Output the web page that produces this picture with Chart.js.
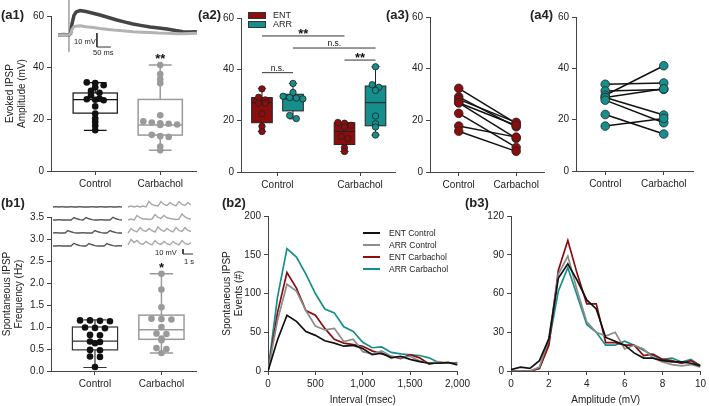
<!DOCTYPE html>
<html>
<head>
<meta charset="utf-8">
<script src="https://cdn.jsdelivr.net/npm/chart.js@4.4.0/dist/chart.umd.min.js"></script>
<style>
body { margin: 0; background: #fff; }
#wrap { position: relative; width: 709px; height: 406px; overflow: hidden; font-family: "Liberation Sans", Arial, sans-serif; color: #222; }
#wrap canvas { position: absolute; }
.pl { position: absolute; font-weight: bold; font-size: 13px; line-height: 16px; }
.tx { position: absolute; font-size: 8.5px; line-height: 10px; white-space: nowrap; }
.sw { position: absolute; }
</style>
</head>
<body>
<div id="wrap">
  <canvas id="a1" width="200" height="200" style="left:0;top:0"></canvas>
  <canvas id="a1in" width="140" height="55" style="left:58px;top:0"></canvas>
  <canvas id="a2" width="200" height="200" style="left:200px;top:0"></canvas>
  <canvas id="a3" width="150" height="200" style="left:400px;top:0"></canvas>
  <canvas id="a4" width="159" height="200" style="left:550px;top:0"></canvas>
  <canvas id="b1" width="200" height="206" style="left:0;top:200px"></canvas>
  <canvas id="b1in" width="150" height="58" style="left:50px;top:200px"></canvas>
  <canvas id="b2" width="273" height="206" style="left:200px;top:200px"></canvas>
  <canvas id="b3" width="239" height="206" style="left:470px;top:200px"></canvas>

  <div class="pl" style="left:1px;top:7px">(a1)</div>
  <div class="pl" style="left:198px;top:7px">(a2)</div>
  <div class="pl" style="left:386px;top:7px">(a3)</div>
  <div class="pl" style="left:530px;top:7px">(a4)</div>
  <div class="pl" style="left:1px;top:195px">(b1)</div>
  <div class="pl" style="left:222px;top:195px">(b2)</div>
  <div class="pl" style="left:465px;top:195px">(b3)</div>

  <div class="tx" style="left:74px;top:37px;font-size:7.5px">10 mV</div>
  <div class="tx" style="left:93px;top:48px;font-size:7.5px">50 ms</div>
  <div class="tx" style="left:155px;top:248px;font-size:7.5px">10 mV</div>
  <div class="tx" style="left:184px;top:257px;font-size:7.5px">1 s</div>

  <div class="sw" style="left:248px;top:12px;width:16px;height:5px;background:#8b0d0d;border:1px solid #333"></div>
  <div class="tx" style="left:273px;top:10px;font-size:9px">ENT</div>
  <div class="sw" style="left:248px;top:21px;width:16px;height:5px;background:#168f8c;border:1px solid #333"></div>
  <div class="tx" style="left:273px;top:19px;font-size:9px">ARR</div>

  <div class="sw" style="left:363px;top:232px;width:17px;height:2px;background:#111"></div>
  <div class="tx" style="left:389px;top:228px">ENT Control</div>
  <div class="sw" style="left:363px;top:244px;width:17px;height:2px;background:#8c8c8c"></div>
  <div class="tx" style="left:389px;top:240px">ARR Control</div>
  <div class="sw" style="left:363px;top:256px;width:17px;height:2px;background:#8b0d0d"></div>
  <div class="tx" style="left:389px;top:252px">ENT Carbachol</div>
  <div class="sw" style="left:363px;top:268px;width:17px;height:2px;background:#168f8c"></div>
  <div class="tx" style="left:389px;top:264px">ARR Carbachol</div>
</div>

<script>
// ---------- DATA ----------

const groups = ['Control', 'Carbachol'];

// (a1) evoked IPSP amplitude (mV)
const a1Control = [34.3, 34.0, 33.2, 32.4, 31.0, 30.3, 29.2, 28.0, 27.8, 27.6, 27.4, 25.0, 22.2, 20.3, 19.0, 17.5, 15.8];
const a1Carbachol = [41.0, 37.5, 35.5, 34.0, 21.6, 19.2, 18.8, 18.5, 18.3, 18.0, 17.8, 14.0, 13.5, 13.2, 9.5, 8.0];
// box stats: min, q1, median, q3, max
const a1ControlBox = [15.7, 22.4, 27.6, 30.2, 34.2];
const a1CarbacholBox = [8.0, 13.9, 17.8, 27.7, 41.0];

// (a1) inset traces: time (ms), deflection (mV)
const traceT = [0, 20, 39, 45, 50, 57, 65, 79, 100, 125, 150, 180, 210, 240, 268, 300, 329, 360, 389, 420, 446, 470, 496];
const traceControl = [0, 0.3, 0, 1, 8, 14, 16.5, 17.4, 16.8, 15.5, 14.3, 12.5, 10.7, 9.2, 7.9, 6.7, 5.7, 5, 4.3, 3.2, 2.4, 2.2, 2.4];
const traceCarbachol = [0, 0.2, 0, 1, 4, 5.8, 6.3, 6.6, 5.9, 5.4, 4.6, 4, 3.3, 2.8, 2.3, 2, 1.8, 1.4, 1.2, 0.9, 0.8, 1, 1.2];

// (a2) ENT vs ARR
const a2EntControl = [32.4, 29.1, 28.1, 26.8, 26.8, 22.7, 17.8, 15.8];
const a2ArrControl = [34.5, 31.0, 29.5, 29.0, 28.8, 28.5, 22.0, 20.8];
const a2EntCarbachol = [19.3, 19.0, 18.2, 17.5, 13.8, 13.0, 9.5, 8.0];
const a2ArrCarbachol = [41.0, 34.0, 33.0, 31.8, 21.8, 18.8, 17.5, 14.4];
const a2EntControlBox = [15.8, 19.2, 27.0, 29.0, 32.6];
const a2ArrControlBox = [20.7, 23.8, 28.5, 30.3, 34.5];
const a2EntCarbacholBox = [8.0, 10.7, 15.8, 19.2, 19.3];
const a2ArrCarbacholBox = [14.4, 18.0, 27.0, 33.5, 41.0];

// (a3) paired ENT, (a4) paired ARR
const a3Control = [32.4, 29.1, 28.1, 26.8, 26.8, 22.7, 17.8, 15.8];
const a3Carbachol = [18.8, 17.5, 19.2, 13.0, 18.0, 9.5, 13.5, 8.0];
const a4Control = [33.8, 31.2, 29.5, 28.6, 28.6, 27.6, 22.0, 17.5];
const a4Carbachol = [34.3, 31.8, 41.0, 32.0, 21.8, 18.8, 14.4, 20.5];

// (b1) spontaneous IPSP frequency (Hz)
const b1Control = [1.15, 1.15, 1.14, 1.13, 0.99, 0.98, 0.97, 0.82, 0.81, 0.67, 0.66, 0.63, 0.48, 0.47, 0.33, 0.32, 0.09];
const b1Carbachol = [2.21, 1.85, 1.45, 1.19, 1.18, 1.17, 1.0, 0.85, 0.84, 0.74, 0.7, 0.52, 0.5, 0.41];
const b1ControlBox = [0.08, 0.48, 0.68, 1.0, 1.16];
const b1CarbacholBox = [0.41, 0.72, 0.94, 1.27, 2.21];

// (b1) inset sweeps (mV above each baseline), 0.3 s apart
const sweepControl = [
  [0, 0.8, 0, 0.8, 0, 0, 0.8, 0, 0, 0.8, 0, 0, 0, 0.8, 0, 0, 0.8, 0, 0, 0.8, 0, 0, 0.8, 0],
  [0, 0, 0.8, 0, 0, 0, 0, 5, 2.4, 0.8, 0, 5, 2.4, 0.8, 0, 0, 0.8, 0, 0, 0, 5.5, 2.4, 0.8, 0],
  [0, 0.8, 0, 0, 0, 5, 2.4, 0.8, 0, 0, 0.8, 0, 0, 0, 5, 2.4, 0.8, 0, 0, 5, 2.4, 0.8, 0, 0],
  [0, 0, 0.8, 0, 0, 0, 0, 5.5, 2.4, 0.8, 0, 0, 5, 2.4, 0.8, 0, 0, 0, 5, 2.4, 0.8, 0, 0.8, 0]
];
const sweepCarbachol = [
  [0, 2, 0, 2, 0, 2, 0, 11, 5, 3, 2, 11, 5, 3, 9, 4.5, 2, 11, 5, 3, 9, 4],
  [0, 2, 0, 9, 4.5, 2, 2, 1, 2, 11, 5, 3, 9, 4.5, 3, 2, 1, 2, 12, 6, 3, 2],
  [0, 9, 4.5, 2, 11, 5, 3, 9, 4.5, 2, 12, 6, 3, 9, 4.5, 2, 11, 5, 3, 11, 5, 3],
  [2, 13, 7, 11, 5, 3, 9, 4.5, 2, 11, 5, 3, 9, 4.5, 2, 9, 4.5, 2, 11, 5, 3, 7]
];

// (b2) inter-event interval histogram
const intervalBins = [0, 100, 200, 300, 400, 500, 600, 700, 800, 900, 1000, 1100, 1200, 1300, 1400, 1500, 1600, 1700, 1800, 1900, 2000];
const ivEntControl = [0, 40, 72, 64, 51, 46, 39, 36, 32, 33, 29, 21, 23, 17, 19, 15, 12, 10, 10, 11, 8];
const ivArrControl = [0, 65, 112, 103, 78, 58, 53, 55, 38, 41, 25, 22, 26, 19, 17, 19, 13, 10, 12, 10, 10];
const ivEntCarbachol = [0, 75, 127, 107, 78, 72, 55, 41, 36, 34, 32, 26, 22, 19, 16, 21, 17, 9, 11, 10, 10];
const ivArrCarbachol = [0, 95, 158, 147, 125, 100, 80, 75, 57, 51, 37, 30, 31, 24, 22, 21, 20, 17, 11, 10, 11];

// (b3) amplitude histogram
const ampBins = [0, 0.5, 1, 1.5, 2, 2.5, 3, 3.5, 4, 4.5, 5, 5.5, 6, 6.5, 7, 7.5, 8, 8.5, 9, 9.5, 10];
const amEntControl = [1, 3, 2, 8, 25, 72, 83, 70, 55, 48, 26, 23, 20, 14, 10, 10, 8, 7, 7, 6, 4];
const amArrControl = [0, 0, 0, 3, 25, 75, 89, 62, 38, 30, 27, 30, 17, 20, 17, 10, 7, 5, 4, 5, 3];
const amEntCarbachol = [0, 0, 0, 2, 20, 78, 101, 75, 52, 52, 22, 22, 20, 20, 12, 13, 9, 8, 6, 8, 4];
const amArrCarbachol = [0, 0, 0, 2, 22, 62, 80, 58, 36, 30, 20, 20, 23, 20, 16, 12, 9, 10, 7, 9, 4];

// ---------- STYLE ----------

const RED = '#8b0d0d';
const TEAL = '#168f8c';
const GREY = '#9a9a9a';
const BLACK = '#111111';
const AXIS = '#444444';

Chart.defaults.font.family = '"Liberation Sans", Arial, sans-serif';
Chart.defaults.font.size = 10;
Chart.defaults.color = '#222';
Chart.defaults.animation = false;
Chart.defaults.plugins.legend.display = false;
Chart.defaults.plugins.tooltip.enabled = false;

const GRID = { display: true, drawOnChartArea: false, drawTicks: true, tickLength: 4, color: AXIS };
const BORDER = { display: true, color: AXIS, width: 1 };

function xCat(min, max, h) {
  return {
    type: 'linear', min: min, max: max,
    afterBuildTicks: s => { s.ticks = [{ value: 1 }, { value: 2 }]; },
    afterFit: s => { s.height = h; },
    ticks: { callback: v => groups[v - 1], maxRotation: 0, autoSkip: false, padding: 3 },
    grid: GRID, border: BORDER
  };
}

function yLin(max, step, w, title, tpad, digits) {
  const y = {
    type: 'linear', min: 0, max: max,
    afterFit: s => { s.width = w; },
    ticks: { stepSize: step, padding: 3, callback: v => digits ? v.toFixed(digits) : v },
    grid: GRID, border: BORDER
  };
  if (title) y.title = { display: true, text: title, font: { size: 10 }, padding: { top: tpad, bottom: 0 }, color: '#222' };
  return y;
}

// sort values and spread near-equal ones side by side
function swarm(vals, center, step, thr) {
  const idx = vals.map((v, i) => i).sort((a, b) => vals[b] - vals[a]);
  const out = [];
  let grp = [];
  const flush = () => {
    grp.forEach((i, k) => out.push({ x: center + (k - (grp.length - 1) / 2) * step, y: vals[i] }));
    grp = [];
  };
  idx.forEach(i => {
    if (grp.length && vals[grp[0]] - vals[i] > thr) flush();
    grp.push(i);
  });
  flush();
  return out;
}

// draws box plots + significance marks via the chart scales
function marks(boxes, sigs) {
  return {
    id: 'marks',
    beforeDatasetsDraw(chart) {
      const { ctx, scales: { x, y } } = chart;
      boxes.forEach(b => {
        const [mn, q1, md, q3, mx] = b.s;
        const xc = x.getPixelForValue(b.x);
        const hw = x.getPixelForValue(b.x + b.w / 2) - xc;
        const cw = x.getPixelForValue(b.x + b.cap / 2) - xc;
        ctx.save();
        ctx.lineWidth = b.lw;
        ctx.strokeStyle = b.stroke;
        if (b.fill) {
          ctx.fillStyle = b.fill;
          ctx.fillRect(xc - hw, y.getPixelForValue(q3), 2 * hw, y.getPixelForValue(q1) - y.getPixelForValue(q3));
        }
        ctx.beginPath();
        ctx.moveTo(xc, y.getPixelForValue(q3)); ctx.lineTo(xc, y.getPixelForValue(mx));
        ctx.moveTo(xc - cw, y.getPixelForValue(mx)); ctx.lineTo(xc + cw, y.getPixelForValue(mx));
        ctx.moveTo(xc, y.getPixelForValue(q1)); ctx.lineTo(xc, y.getPixelForValue(mn));
        ctx.moveTo(xc - cw, y.getPixelForValue(mn)); ctx.lineTo(xc + cw, y.getPixelForValue(mn));
        ctx.moveTo(xc - hw, y.getPixelForValue(md)); ctx.lineTo(xc + hw, y.getPixelForValue(md));
        ctx.stroke();
        ctx.strokeRect(xc - hw, y.getPixelForValue(q3), 2 * hw, y.getPixelForValue(q1) - y.getPixelForValue(q3));
        ctx.restore();
      });
    },
    afterDatasetsDraw(chart) {
      const { ctx, scales: { x, y } } = chart;
      sigs.forEach(s => {
        const py = y.getPixelForValue(s.y);
        const x1 = x.getPixelForValue(s.x1), x2 = x.getPixelForValue(s.x2);
        ctx.save();
        if (s.line) {
          ctx.strokeStyle = '#333'; ctx.lineWidth = 1;
          ctx.beginPath(); ctx.moveTo(x1, py); ctx.lineTo(x2, py); ctx.stroke();
        }
        ctx.fillStyle = '#111';
        ctx.textAlign = 'center';
        ctx.textBaseline = 'alphabetic';
        const star = s.text.indexOf('*') >= 0;
        ctx.font = (star ? 'bold 13px ' : '8.5px ') + '"Liberation Sans", Arial, sans-serif';
        let dy = -2;
        if (star) dy = s.line ? 2 : 8;
        ctx.fillText(s.text, (x1 + x2) / 2, py + dy);
        ctx.restore();
      });
    }
  };
}

function dots(data, fill, stroke, r) {
  return { type: 'scatter', data: data, pointRadius: r, backgroundColor: fill, borderColor: stroke, borderWidth: stroke === fill ? 0 : 0.8 };
}

// ---------- (a1) ----------
new Chart(document.getElementById('a1'), {
  type: 'scatter',
  data: { datasets: [
    dots(swarm(a1Control, 1, 0.13, 1.3), BLACK, BLACK, 3.3),
    dots(swarm(a1Carbachol, 2, 0.13, 1.3), GREY, GREY, 3.3)
  ] },
  options: {
    responsive: false,
    layout: { padding: { top: 16, right: 4, left: 0, bottom: 0 } },
    scales: { x: xCat(0.32, 2.55, 29), y: yLin(60, 20, 51, ['Evoked IPSP', 'Amplitude (mV)'], 4) }
  },
  plugins: [marks(
    [{ x: 1, w: 0.68, cap: 0.35, s: a1ControlBox, stroke: BLACK, lw: 1.2 },
     { x: 2, w: 0.68, cap: 0.35, s: a1CarbacholBox, stroke: GREY, lw: 1.5 }],
    [{ x1: 2, x2: 2, y: 45, text: '**', line: false }]
  )]
});

// (a1) inset traces
new Chart(document.getElementById('a1in'), {
  type: 'scatter',
  data: { datasets: [
    { data: traceT.map((t, i) => ({ x: t, y: traceCarbachol[i] })), showLine: true, borderColor: '#b3b3b3', borderWidth: 3, pointRadius: 0 },
    { data: traceT.map((t, i) => ({ x: t, y: traceControl[i] })), showLine: true, borderColor: '#444', borderWidth: 3.5, pointRadius: 0 },
    { data: [{ x: 39, y: 25 }, { x: 39, y: -12 }], showLine: true, borderColor: '#aaa', borderWidth: 1, pointRadius: 0 },
    { data: [{ x: 139, y: 1.4 }, { x: 139, y: -8.6 }, { x: 189, y: -8.6 }], showLine: true, borderColor: '#333', borderWidth: 1, pointRadius: 0 }
  ] },
  options: {
    responsive: false,
    layout: { padding: 0 },
    scales: { x: { display: false, min: 0, max: 500 }, y: { display: false, min: -14.3, max: 25 } }
  }
});

// ---------- (a2) ----------
const off = 0.188;
new Chart(document.getElementById('a2'), {
  type: 'scatter',
  data: { datasets: [
    dots(swarm(a2EntControl, 1 - off, 0.08, 1.2), RED, '#222', 3.2),
    dots(swarm(a2ArrControl, 1 + off, 0.08, 1.2), TEAL, '#222', 3.2),
    dots(swarm(a2EntCarbachol, 2 - off, 0.08, 1.2), RED, '#222', 3.2),
    dots(swarm(a2ArrCarbachol, 2 + off, 0.08, 1.2), TEAL, '#222', 3.2)
  ] },
  options: {
    responsive: false,
    layout: { padding: { top: 18, right: 5, left: 0, bottom: 0 } },
    scales: { x: xCat(0.558, 2.424, 28), y: yLin(60, 20, 41) }
  },
  plugins: [marks(
    [{ x: 1 - off, w: 0.25, cap: 0.1, s: a2EntControlBox, stroke: '#222', fill: RED, lw: 1 },
     { x: 1 + off, w: 0.25, cap: 0.1, s: a2ArrControlBox, stroke: '#222', fill: TEAL, lw: 1 },
     { x: 2 - off, w: 0.25, cap: 0.1, s: a2EntCarbacholBox, stroke: '#222', fill: RED, lw: 1 },
     { x: 2 + off, w: 0.25, cap: 0.1, s: a2ArrCarbacholBox, stroke: '#222', fill: TEAL, lw: 1 }],
    [{ x1: 1 - off, x2: 2 - off, y: 53, text: '**', line: true },
     { x1: 1 + off, x2: 2 + off, y: 48.3, text: 'n.s.', line: true },
     { x1: 2 - off, x2: 2 + off, y: 43.6, text: '**', line: true },
     { x1: 1 - off, x2: 1 + off, y: 38.7, text: 'n.s.', line: true }]
  )]
});

// ---------- (a3) / (a4) paired ----------
function paired(id, ctrl, carb, color, w, padRight, xh) {
  const sets = [dots(ctrl.map(v => ({ x: 1, y: v })).concat(carb.map(v => ({ x: 2, y: v }))), color, '#222', 4.3)];
  ctrl.forEach((v, i) => sets.push({
    data: [{ x: 1, y: v }, { x: 2, y: carb[i] }], showLine: true, borderColor: BLACK, borderWidth: 1.5, pointRadius: 0
  }));
  new Chart(document.getElementById(id), {
    type: 'scatter',
    data: { datasets: sets },
    options: {
      responsive: false,
      layout: { padding: { top: 17, right: padRight, left: 0, bottom: 0 } },
      scales: { x: xCat(0.5, 2.5, xh), y: yLin(60, 20, w) }
    }
  });
}
paired('a3', a3Control, a3Carbachol, RED, 30, 4, 28);
paired('a4', a4Control, a4Carbachol, TEAL, 26, 16, 29);

// ---------- (b1) ----------
new Chart(document.getElementById('b1'), {
  type: 'scatter',
  data: { datasets: [
    dots(swarm(b1Control, 1, 0.15, 0.04), BLACK, BLACK, 3.3),
    dots(swarm(b1Carbachol, 2, 0.15, 0.04), GREY, GREY, 3.3)
  ] },
  options: {
    responsive: false,
    layout: { padding: { top: 17, right: 4, left: 0, bottom: 0 } },
    scales: { x: xCat(0.338, 2.52, 35), y: yLin(3.5, 0.5, 51, ['Spontaneous IPSP', 'Frequency (Hz)'], 1, 1) }
  },
  plugins: [marks(
    [{ x: 1, w: 0.68, cap: 0.35, s: b1ControlBox, stroke: '#333', lw: 1.2 },
     { x: 2, w: 0.68, cap: 0.35, s: b1CarbacholBox, stroke: GREY, lw: 1.5 }],
    [{ x1: 2, x2: 2, y: 2.43, text: '*', line: false }]
  )]
});

// (b1) inset sweeps
const sweepSets = [];
const rowTop = 102, rowGap = 26, dt = 0.3;
sweepControl.forEach((row, r) => sweepSets.push({
  data: row.map((v, i) => ({ x: 0.3 + i * dt, y: rowTop - r * rowGap + v })),
  showLine: true, borderColor: '#555', borderWidth: 1.4, pointRadius: 0
}));
sweepCarbachol.forEach((row, r) => sweepSets.push({
  data: row.map((v, i) => ({ x: 7.8 + i * dt, y: rowTop - r * rowGap + v })),
  showLine: true, borderColor: '#a8a8a8', borderWidth: 1.4, pointRadius: 0
}));
sweepSets.push({ data: [{ x: 13.3, y: 18 }, { x: 13.3, y: 8 }, { x: 14.3, y: 8 }], showLine: true, borderColor: '#333', borderWidth: 1, pointRadius: 0 });
new Chart(document.getElementById('b1in'), {
  type: 'scatter',
  data: { datasets: sweepSets },
  options: {
    responsive: false,
    layout: { padding: 0 },
    scales: { x: { display: false, min: 0, max: 15 }, y: { display: false, min: 0, max: 116 } }
  }
});

// ---------- (b2) / (b3) histograms ----------
function hist(id, bins, series, xOpts, yMax, yStep, yW, yTitle, yPad, padRight) {
  const colors = [BLACK, '#8c8c8c', RED, TEAL];
  new Chart(document.getElementById(id), {
    type: 'line',
    data: { datasets: series.map((s, k) => ({
      data: bins.map((b, i) => ({ x: b, y: s[i] })),
      borderColor: colors[k], borderWidth: 1.7, pointRadius: 0, tension: 0, fill: false
    })) },
    options: {
      responsive: false,
      layout: { padding: { top: 16, right: padRight, left: 0, bottom: 0 } },
      scales: {
        x: Object.assign({
          type: 'linear',
          afterFit: s => { s.height = 35; },
          grid: GRID, border: BORDER
        }, xOpts),
        y: yLin(yMax, yStep, yW, yTitle, yPad)
      }
    }
  });
}
hist('b2', intervalBins, [ivEntControl, ivArrControl, ivEntCarbachol, ivArrCarbachol],
  { min: 0, max: 2000, ticks: { stepSize: 500, padding: 3, maxRotation: 0 },
    title: { display: true, text: 'Interval (msec)', font: { size: 10 }, padding: { top: 0, bottom: 0 }, color: '#222' } },
  200, 50, 68, ['Spontaneous IPSP', 'Events (#)'], 21, 12);
hist('b3', ampBins, [amEntControl, amArrControl, amEntCarbachol, amArrCarbachol],
  { min: 0, max: 10, ticks: { stepSize: 2, padding: 3, maxRotation: 0 },
    title: { display: true, text: 'Amplitude (mV)', font: { size: 10 }, padding: { top: 0, bottom: 0 }, color: '#222' } },
  120, 30, 41, null, 0, 6);
</script>
</body>
</html>
